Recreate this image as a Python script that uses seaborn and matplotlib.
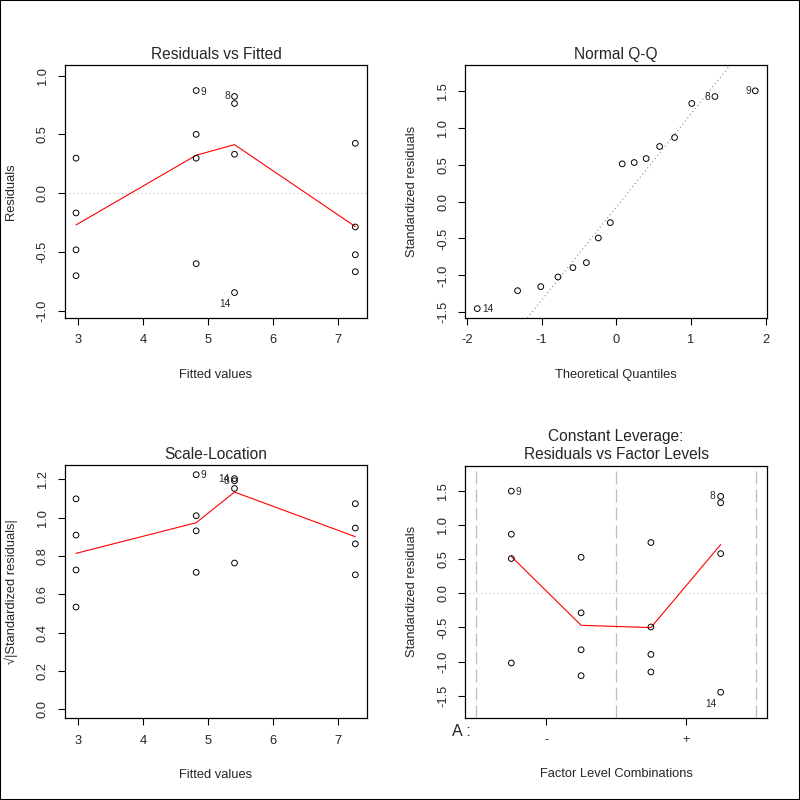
import matplotlib
matplotlib.use("Agg")
import matplotlib.pyplot as plt
from matplotlib.patches import Rectangle
from matplotlib.ticker import FormatStrFormatter
import numpy as np
import pandas as pd
import seaborn as sns

# one row per observation, grouped by fitted value
obs = [9, 1, 5, 13, 2, 6, 10, 16, 3, 7, 11, 15, 8, 4, 12, 14]
fitted = [4.82, 4.82, 4.82, 4.82, 2.97, 2.97, 2.97, 2.97,
          7.27, 7.27, 7.27, 7.27, 5.41, 5.41, 5.41, 5.41]
resid = [0.873, 0.501, 0.299, -0.597, 0.299, -0.166, -0.479, -0.699,
         0.425, -0.285, -0.521, -0.665, 0.823, 0.763, 0.332, -0.842]
std_resid = [1.500, 0.868, 0.511, -1.021, 0.529, -0.285, -0.827, -1.207,
             0.746, -0.493, -0.895, -1.152, 1.423, 1.329, 0.583, -1.450]
factor_pos = [1, 1, 1, 1, 2, 2, 2, 2, 3, 3, 3, 3, 4, 4, 4, 4]

theo_q = [-1.86, -1.32, -1.01, -0.78, -0.58, -0.40, -0.24, -0.08,
          0.08, 0.24, 0.40, 0.58, 0.78, 1.01, 1.32, 1.86]

# red smoother lines
smooth_x = [2.97, 4.82, 5.41, 7.27]
smooth_rvf = [-0.268, 0.324, 0.414, -0.282]
smooth_sl = [0.814, 0.974, 1.134, 0.901]
smooth_lev_x = [1, 2, 3, 4]
smooth_lev = [0.541, -0.468, -0.502, 0.716]

level_ticks = [1.5, 3.5]
level_labels = ["-", "+"]
labelled = {8, 9, 14}

df = pd.DataFrame({"obs": obs, "fitted": fitted, "resid": resid,
                   "std": std_resid, "pos": factor_pos})
df["sqrt_std"] = np.sqrt(np.abs(df["std"]))

sns.set_style("ticks")
plt.rcParams["font.family"] = ["Liberation Sans", "DejaVu Sans"]
plt.rcParams["axes.unicode_minus"] = False
plt.rcParams["lines.scale_dashes"] = False

PX = 0.72  # points per pixel at dpi 100
FS = 9.3
dotted = (0, (1 * PX, 3 * PX))
longdash = (0, (13 * PX, 5 * PX))

fig = plt.figure(figsize=(8, 8), dpi=100)
fig.patches.append(Rectangle((0, 0), 1, 1, transform=fig.transFigure,
                             fill=False, edgecolor="black", lw=1.5))

ax1 = fig.add_axes([0.08125, 0.6025, 0.3775, 0.31625])
ax2 = fig.add_axes([0.5816, 0.6025, 0.3768, 0.31625])
ax3 = fig.add_axes([0.08125, 0.1021, 0.3775, 0.3166])
ax4 = fig.add_axes([0.5816, 0.1029, 0.3768, 0.315])


def style(ax, title, xlabel, ylabel):
    for s in ax.spines.values():
        s.set_visible(True)
        s.set_linewidth(0.9)
        s.set_color("black")
    ax.tick_params(direction="out", length=5.2, width=0.8, pad=6.5,
                   labelsize=FS, color="black")
    for lab in ax.get_yticklabels():
        lab.set_rotation(90)
        lab.set_va("center")
    ax.set_title(title, fontsize=11.2, pad=4.5, linespacing=1.3)
    ax.set_xlabel(xlabel, fontsize=FS, va="center")
    ax.set_ylabel(ylabel, fontsize=FS, va="center")
    ax.xaxis.set_label_coords(0.5, -0.225)
    ax.yaxis.set_label_coords(-0.178, 0.5)


def points(ax, x, y):
    sns.scatterplot(data=df, x=x, y=y, ax=ax, marker="o", s=17,
                    facecolor="none", edgecolor="black", linewidth=0.7,
                    legend=False, zorder=3)


def tag(ax, x, y, text, dx, dy, ha):
    ax.annotate(text, (x, y), xytext=(dx * PX, -dy * PX),
                textcoords="offset points", ha=ha, va="center",
                fontsize=7.3)


# Residuals vs Fitted
points(ax1, "fitted", "resid")
ax1.axhline(0, color="#bebebe", lw=0.8, ls=dotted, zorder=1)
sns.lineplot(x=smooth_x, y=smooth_rvf, ax=ax1, color="red", lw=0.8,
             sort=False, estimator=None)
ax1.set_xlim(2.80, 7.45)
ax1.set_ylim(-1.058, 1.09)
ax1.set_xticks([3, 4, 5, 6, 7])
ax1.set_yticks([-1.0, -0.5, 0.0, 0.5, 1.0])
ax1.yaxis.set_major_formatter(FormatStrFormatter("%.1f"))
style(ax1, "Residuals vs Fitted", "Fitted values", "Residuals")
for _, r in df[df["obs"].isin(labelled)].iterrows():
    if r["obs"] == 9:
        tag(ax1, r["fitted"], r["resid"], "9", 4, 1.5, "left")
    elif r["obs"] == 8:
        tag(ax1, r["fitted"], r["resid"], "8", -4.5, 0, "right")
    else:
        tag(ax1, r["fitted"], r["resid"], "14", -9.5, 11.5, "center")

# Normal Q-Q
qq = df.sort_values("std").reset_index(drop=True)
qq["theo"] = theo_q
sns.scatterplot(data=qq, x="theo", y="std", ax=ax2, marker="o", s=17,
                facecolor="none", edgecolor="black", linewidth=0.7,
                legend=False, zorder=3)
q_samp = np.quantile(qq["std"], [0.25, 0.75])
q_theo = np.array([-0.6745, 0.6745])
slope = (q_samp[1] - q_samp[0]) / (q_theo[1] - q_theo[0])
icpt = q_samp[0] - slope * q_theo[0]
ax2.axline((0, icpt), slope=slope, color="#7f7f7f", lw=0.8, ls=dotted,
           zorder=1)
ax2.set_xlim(-2.02, 2.013)
ax2.set_ylim(-1.577, 1.85)
ax2.set_xticks([-2, -1, 0, 1, 2])
ax2.set_yticks([-1.5, -1.0, -0.5, 0.0, 0.5, 1.0, 1.5])
ax2.yaxis.set_major_formatter(FormatStrFormatter("%.1f"))
style(ax2, "Normal Q-Q", "Theoretical Quantiles", "Standardized residuals")
for _, r in qq[qq["obs"].isin(labelled)].iterrows():
    if r["obs"] == 14:
        tag(ax2, r["theo"], r["std"], "14", 5, 0, "left")
    else:
        tag(ax2, r["theo"], r["std"], str(int(r["obs"])), -4.5, 0, "right")

# Scale-Location
points(ax3, "fitted", "sqrt_std")
sns.lineplot(x=smooth_x, y=smooth_sl, ax=ax3, color="red", lw=0.8,
             sort=False, estimator=None)
ax3.set_xlim(2.80, 7.45)
ax3.set_ylim(-0.047, 1.275)
ax3.set_xticks([3, 4, 5, 6, 7])
ax3.set_yticks([0.0, 0.2, 0.4, 0.6, 0.8, 1.0, 1.2])
ax3.yaxis.set_major_formatter(FormatStrFormatter("%.1f"))
style(ax3, "Scale-Location", "Fitted values",
      "\u221a|Standardized residuals|")
for _, r in df[df["obs"].isin(labelled)].iterrows():
    if r["obs"] == 9:
        tag(ax3, r["fitted"], r["sqrt_std"], "9", 4, 0.5, "left")
    else:
        tag(ax3, r["fitted"], r["sqrt_std"], str(int(r["obs"])), -5, 0.5,
            "right")

# Constant Leverage: Residuals vs Factor Levels
points(ax4, "pos", "std")
ax4.axhline(0, color="#bebebe", lw=0.8, ls=dotted, zorder=1)
for v in [0.5, 2.5, 4.5]:
    ax4.axvline(v, color="#bebebe", lw=0.9, ls=longdash, zorder=1)
sns.lineplot(x=smooth_lev_x, y=smooth_lev, ax=ax4, color="red", lw=0.8,
             sort=False, estimator=None)
ax4.set_xlim(0.34, 4.66)
ax4.set_ylim(-1.823, 1.873)
ax4.set_xticks(level_ticks)
ax4.set_xticklabels(level_labels)
ax4.set_yticks([-1.5, -1.0, -0.5, 0.0, 0.5, 1.0, 1.5])
ax4.yaxis.set_major_formatter(FormatStrFormatter("%.1f"))
style(ax4, "Constant Leverage:\nResiduals vs Factor Levels",
      "Factor Level Combinations", "Standardized residuals")
ax4.text(0.017, -0.056, "A :", transform=ax4.transAxes, ha="right",
         va="center", fontsize=11.5)
for _, r in df[df["obs"].isin(labelled)].iterrows():
    if r["obs"] == 9:
        tag(ax4, r["pos"], r["std"], "9", 4, 1, "left")
    elif r["obs"] == 8:
        tag(ax4, r["pos"], r["std"], "8", -5, 0, "right")
    else:
        tag(ax4, r["pos"], r["std"], "14", -9.5, 12, "center")

fig.savefig("out.png", dpi=100)
